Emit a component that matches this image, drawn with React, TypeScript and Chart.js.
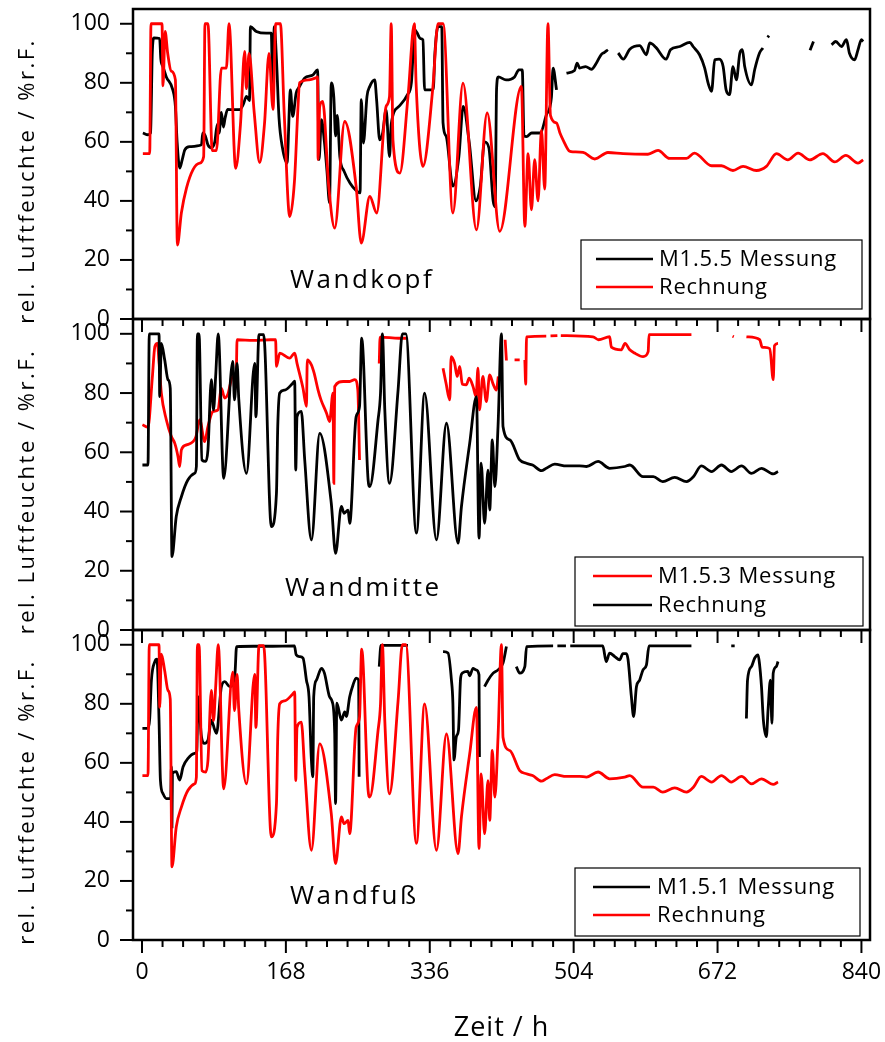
import React, { useEffect, useRef } from "react";
import { Chart, registerables } from "chart.js";
Chart.register(...registerables);

type Pt = [number, number | null];

// ---------- axis ticks ----------
const xTickValues = [0, 168, 336, 504, 672, 840];
const yTickValues = [0, 20, 40, 60, 80, 100];
const xMinorStep = 24;
const yMinorStep = 10;

// ---------- data (Zeit [h], rel. Luftfeuchte [%r.F.]) ----------
const kopfMessung: Pt[] = [
  [1, 63], [7, 62.4], [10, 63], [12, 90], [14, 95.2], [20.6, 95], [22, 88], [24.5, 85.5], [28.4, 82],
  [36, 77.6], [39, 72], [41, 60], [44, 51.1], [47, 54], [50, 57.3], [55.7, 58.4], [69.4, 59], [71, 63],
  [74, 62], [77, 59], [81, 58], [85, 60], [88, 66], [90, 63], [92.7, 70], [95, 65], [97, 68], [100, 71],
  [106, 70.9], [114, 70.9], [118, 72.5], [122, 75.4], [125.5, 74], [126.6, 99], [133.5, 97.4], [145, 96.8],
  [151, 96.8], [152.5, 78], [154.5, 99], [157, 88], [160, 68], [164, 58], [169.3, 52.8], [173.3, 77.6],
  [176, 68.6], [180, 76.5], [184, 78.8], [190, 81.6], [199.7, 82.7], [205, 84.4], [206.7, 54], [209.5, 67.5],
  [213, 60], [216, 50], [219, 39.3], [221, 80], [224, 75], [226, 62], [228, 69], [231, 55], [236, 50],
  [243, 46], [250, 43.5], [254.6, 42.7], [256, 74.3], [258.5, 59.6], [262.7, 75.4], [266, 78.8], [271.7, 81],
  [274, 74], [277.5, 60.7], [281, 63], [285, 70.9], [289, 55], [291, 66], [300, 72], [310, 76], [314.5, 80],
  [318.5, 98], [321, 97], [325, 95], [328, 94.6], [330, 77.6], [340, 77.6], [342, 90], [345.6, 99], [350, 99],
  [351.5, 66.4], [355, 62], [363, 45], [370, 55], [375, 72], [382, 60], [390, 40], [395, 45], [400, 60],
  [405, 58], [410, 40], [412.3, 38], [414, 78], [416, 82], [425, 81], [435, 82], [440, 84.4], [444, 84.4],
  [446, 62], [449, 61.8], [455, 63], [465, 63], [472, 69], [478, 75], [480, 85], [484, 77.6], [486, null],
  [495.6, 83.3], [505, 84.2], [508, 86.7], [511, 85], [518, 85.5], [524.7, 84.6], [530.6, 86.7], [536, 89.5],
  [540, 90.3], [544, 91.2], [546, null], [556, 90.1], [562, 88], [569.5, 91.4], [581, 92.6], [589, 89.5],
  [592.8, 93.5], [600, 92], [612, 88], [617, 91.2], [628, 92.3], [639.6, 93.7], [643.4, 92.3], [651, 89.5],
  [657, 85], [661, 79.9], [665, 77.1], [668.7, 87.8], [674, 88], [678.5, 85.5], [682, 77.6], [686, 76],
  [690, 85.5], [694, 81], [698, 90], [701, 91.2], [703.7, 85.5], [711.6, 79.3], [715.4, 84.5], [721, 90.1],
  [725, 91.8], [727, null], [730.5, 95.4], [732, 96], [733, null], [780, 91], [784, 94], [786, null],
  [805, 92.9], [810, 94], [816.7, 92.3], [822.5, 94.6], [826, 90], [832, 87.8], [836, 91.2], [840, 94.6], [842, 94],
];

const kopfRechnung: Pt[] = [
  [1, 56], [9, 56], [10.5, 100], [23.4, 100], [24.5, 79], [27, 97.4], [30, 90], [34, 84], [39, 81],
  [41.3, 25], [46, 36], [52, 44.4], [59.6, 50.6], [67.4, 52.8], [72, 55], [73.5, 100], [77, 100], [82, 57],
  [86.9, 57], [92.7, 85], [98.5, 85], [101.6, 100], [109.4, 51], [115, 66], [119.9, 90.6], [121.9, 78],
  [125, 90], [131, 70], [137.4, 53], [143, 66], [148.3, 90], [153, 71], [156.1, 100], [161.6, 100],
  [166, 70], [172.5, 34.7], [178, 46.6], [182, 71], [184, 80], [195, 81], [203, 81.7], [205, 82],
  [205.6, 54], [207.5, 72], [211, 73.7], [218, 45], [225, 30.8], [236.7, 66.9], [250, 45], [256, 25.7],
  [266, 41.5], [274, 35.9], [285, 72], [289, 75.4], [291, 100], [293, 60.7], [301, 49.4], [310.6, 75.4],
  [318, 100], [320, 80], [328, 51.7], [339.5, 78], [345.6, 100], [351.5, 100], [363, 35.9], [374.8, 79.9],
  [390.5, 30.2], [403, 69.8], [417.7, 29.7], [443, 78.8], [447, 31.4], [450.8, 56], [454.7, 37], [458.5, 54],
  [462.4, 40], [466.4, 64], [470.2, 44], [474, 100], [476.9, 69], [484, 66.4], [488, 63], [491.6, 60.7],
  [499.4, 56.8], [503.5, 56.6], [515, 56.4], [528.6, 54.2], [544, 56.4], [561.7, 56], [590.8, 55.8],
  [602.5, 57.1], [616, 54.4], [635.7, 54.4], [645, 56.2], [665, 51.9], [676.6, 51.9], [690, 50.3],
  [701.8, 51.7], [717.4, 50.3], [729, 51.7], [740.8, 56], [754, 53.9], [766, 56.2], [779.6, 53.9], [795, 56],
  [808.8, 53.2], [821.7, 55.4], [836, 52.8], [842, 53.9],
];

const mitteMessung: Pt[] = [
  [0.5, 69.3], [7, 68.5], [12, 85], [15, 95.7], [18, 96.8], [20, 90], [22.6, 80], [28.4, 71], [34.3, 65.3],
  [38.3, 63], [42, 58.6], [44, 55.2], [46, 60.8], [52, 62.5], [59.6, 63.6], [63, 65.3], [67.4, 71],
  [73.2, 63.6], [77, 68.7], [83, 73.8], [88.7, 74.3], [92.7, 81.6], [96.6, 78.3], [100, 79.4], [106, 85.6],
  [110, 86], [111, 98], [130, 97.8], [150, 98], [156, 98], [157, 89], [160.8, 93.5], [172.5, 91.8],
  [178.3, 93.5], [181, 90], [188, 81.6], [192, 75.5], [193, 91.2], [197.8, 89.5], [201, 86.7], [205.6, 81],
  [209, 77.7], [215.5, 73.2], [219, 70.4], [223, 80], [224, 49.5], [225, 82.2], [235, 83.9], [242.5, 83.9],
  [248.4, 84.5], [252, 81], [254, 57.4], [256, null], [277, 90], [278, 98.9], [300, 98.5], [308.7, 98.5],
  [310, null], [351.5, 88.4], [355, 83.3], [359.3, 77.7], [361, 92.3], [365, 90], [368, 85.6], [371, 89],
  [374, 83], [378.8, 82.8], [382, 85], [386.5, 82.2], [390, 78.8], [392.3, 88.4], [394, 74.3], [398, 85.6],
  [402, 77.1], [406, 86.1], [410, 83], [413.8, 81], [416, 85.6], [418, null], [424, 98], [425.5, 91],
  [427, null], [435, 91.2], [441, 91.2], [443, null], [447, 91.2], [448, 83], [449, 99], [472, 99.2],
  [474, null], [477, 99.3], [485, 99.4], [487, null], [489, 99.4], [526.6, 99], [533, 98], [546, 99],
  [548, 95.5], [559.7, 94.6], [564, 96.8], [569.5, 94.6], [575, 93.5], [585, 92.3], [591, 94], [592, 99.7],
  [641.5, 99.7], [643, null], [689.5, 99.2], [691, 99], [692, null], [705.7, 99], [721.3, 98], [724, 95.5],
  [733, 95], [737, 84.5], [738.5, 96], [742.6, 96.8],
];

const rechnung: Pt[] = [
  [0.5, 55.7], [7, 55.7], [8.5, 100], [19.9, 100], [20.7, 78.8], [22.6, 96.8], [26.5, 91.2], [30.4, 84.5],
  [33, 81.6], [35, 24.8], [40, 38.3], [46, 45], [53.7, 50.7], [61.5, 52.9], [63.5, 55.2], [64.7, 100],
  [66.6, 100], [70, 57.4], [74.4, 56.9], [77, 60.8], [81, 84.5], [83.5, 74.3], [86, 85.6], [89, 100],
  [95.4, 51.2], [106, 90.7], [108, 77.7], [111, 90], [113, 78], [122, 52.9], [131.6, 90], [133, 72],
  [136.6, 99.7], [142, 99.7], [151, 34.9], [157, 46.2], [158.5, 68.7], [160.8, 80], [166.6, 81], [176, 83.3],
  [178.3, 84], [179.5, 54], [181, 72], [186, 73.8], [190, 57.4], [197.8, 30.4], [207.5, 66.4], [221, 42.8],
  [226, 25.9], [232.8, 41.7], [236, 39.4], [240.6, 40.5], [242.5, 36], [250, 72], [254, 75.5], [256.5, 98.5],
  [264, 50.7], [266, 48.4], [275.6, 70.9], [278.5, 80], [280.7, 100], [283.5, 74.3], [289, 49.5], [299, 81],
  [304, 100], [308, 100], [320.4, 32.7], [330, 80], [343.8, 30.4], [355.5, 69.8], [369, 29.3], [373, 41.7],
  [382.6, 63], [390.5, 78.8], [393.5, 31], [396, 56.3], [400, 36], [404, 54], [406, 40.5], [409, 64.2],
  [412, 48.4], [415.7, 68.7], [419.7, 100], [421.5, 68.7], [429.4, 64.2], [441, 57.4], [448.8, 56.3],
  [456, 55.7], [466.4, 53.8], [472, 54.6], [481.9, 56], [495.6, 55.4], [511, 55.4], [519, 55.2],
  [532.5, 56.9], [546, 54.6], [563.6, 55.2], [569.5, 55.7], [585, 51.8], [597, 51.8], [608, 50.1],
  [622, 51.5], [635.7, 50.1], [644, 51.8], [653, 55.4], [665, 53.5], [676.6, 55.7], [688, 53.5], [700, 55.4],
  [711.6, 52.9], [723.3, 54.6], [737, 52.7], [742.6, 53.5],
];

const fussMessung: Pt[] = [
  [0.5, 71.7], [7, 71.7], [9, 75], [11, 88], [15, 94.3], [17.5, 95.1], [19.9, 74.5], [21.5, 54.2],
  [24.5, 49.6], [28.4, 47.9], [33.5, 48], [34.3, 58.7], [35, 38.3], [35.5, 56.4], [40, 57], [44, 54.2],
  [48, 58.7], [53.7, 61.5], [61.5, 63.2], [64, 64], [65.4, 82.4], [69.4, 68.9], [73, 66.6], [77, 67.7],
  [81, 74.5], [85, 71.1], [87, 70], [92.7, 85.8], [96.6, 87.5], [102.6, 85.8], [108.5, 90.1], [110.4, 99.4],
  [130, 99.5], [150, 99.5], [178, 99.6], [180, 96.6], [184, 96], [188, 95.5], [192, 88], [195, 82.4],
  [197.8, 61], [199.5, 55.3], [200.5, 82.4], [203.6, 88], [209.5, 92], [213, 90.4], [219, 82.4], [222, 80.8],
  [225, 70], [226, 46.2], [227.5, 80.2], [232.8, 74.5], [236.7, 77.3], [238.6, 75.7], [242.5, 82.4],
  [246.4, 86.4], [250, 88.7], [253, 88], [253.5, 55.3], [255, null], [277, 92.6], [279, 99.8], [310.6, 99.8],
  [312, null], [351.5, 97.7], [357.3, 97.2], [361.3, 88], [363, 80.2], [364.3, 61], [367, 68.9], [369.5, 71],
  [372, 88.7], [374, 90.4], [380.6, 91], [382.5, 89.5], [386.5, 92], [390, 91.5], [393.5, 89.8], [394, 62],
  [396, null], [400, 85.8], [404, 88], [410, 90.4], [415.7, 91.5], [421.5, 93.8], [425.5, 99.4], [427, null],
  [437, 92.6], [441, 90.4], [447, 92.6], [449, 99.4], [480, 99.6], [482, null], [485, 99.6], [495, 99.6],
  [497, null], [500, 99.6], [538, 99.6], [542, 94.3], [546, 97.2], [552, 96], [557.7, 94.9], [561.5, 97],
  [565.5, 97], [567.5, 95], [571.4, 82.4], [574, 75.7], [577.3, 85.8], [581, 88], [585, 91.5], [589, 93.2],
  [592, 99.6], [641.5, 99.6], [643, null], [688, 99.6], [692, 99.6], [694, null], [705.7, 75], [707, 88],
  [711.6, 92.6], [715.4, 95.5], [719.3, 96.6], [721, 93.5], [723.3, 85.8], [725.5, 74.5], [729, 68.9],
  [731, 78], [733.7, 88], [735.5, 73.4], [737, 90.4], [740.5, 92.6], [742.6, 94.3],
];

// ---------- labels ----------
const yTitle = "rel. Luftfeuchte / %r.F.";
const xTitle = "Zeit / h";
const panelNames = ["Wandkopf", "Wandmitte", "Wandfuß"];
const messungLabels = ["M1.5.5 Messung", "M1.5.3 Messung", "M1.5.1 Messung"];
const rechnungLabel = "Rechnung";

const RED = "#ff0000";
const BLACK = "#000000";
const FONT = '"Open Sans", "DejaVu Sans", sans-serif';
const W = 885;
const H = 1042;

type Series = { label: string; pts: Pt[]; color: string };
type Panel = {
  top: number;
  bottom: number;
  showX: boolean;
  series: Series[];
  name: string;
  nameX: number;
  nameY: number;
  legendBox: [number, number, number, number];
  legendLine: [number, number];
  legendTextX: number;
  legendRows: { y: number; color: string; text: string }[];
};

const panels: Panel[] = [
  {
    top: 9, bottom: 319, showX: false,
    series: [
      { label: rechnungLabel, pts: kopfRechnung, color: RED },
      { label: messungLabels[0], pts: kopfMessung, color: BLACK },
    ],
    name: panelNames[0], nameX: 290, nameY: 288,
    legendBox: [581, 240, 862, 309], legendLine: [596, 653], legendTextX: 659,
    legendRows: [
      { y: 259, color: BLACK, text: messungLabels[0] },
      { y: 287, color: RED, text: rechnungLabel },
    ],
  },
  {
    top: 319, bottom: 630, showX: false,
    series: [
      { label: rechnungLabel, pts: rechnung, color: BLACK },
      { label: messungLabels[1], pts: mitteMessung, color: RED },
    ],
    name: panelNames[1], nameX: 285, nameY: 596,
    legendBox: [575, 557, 863, 626], legendLine: [593, 652], legendTextX: 658,
    legendRows: [
      { y: 576, color: RED, text: messungLabels[1] },
      { y: 605, color: BLACK, text: rechnungLabel },
    ],
  },
  {
    top: 630, bottom: 940, showX: true,
    series: [
      { label: rechnungLabel, pts: rechnung, color: RED },
      { label: messungLabels[2], pts: fussMessung, color: BLACK },
    ],
    name: panelNames[2], nameX: 290, nameY: 904,
    legendBox: [575, 868, 860, 936], legendLine: [593, 650], legendTextX: 657,
    legendRows: [
      { y: 887, color: BLACK, text: messungLabels[2] },
      { y: 915, color: RED, text: rechnungLabel },
    ],
  },
];

function decorPlugin(p: Panel) {
  return {
    id: "decor",
    afterDraw(chart: any) {
      const ctx: CanvasRenderingContext2D = chart.ctx;
      const a = chart.chartArea;
      const xs = chart.scales.x;
      const ys = chart.scales.y;
      ctx.save();
      ctx.strokeStyle = BLACK;
      ctx.fillStyle = BLACK;
      ctx.lineWidth = 2;
      for (let v = 0; v <= 100; v += yMinorStep) {
        const y = ys.getPixelForValue(v);
        const len = yTickValues.includes(v) ? 13 : 7;
        ctx.beginPath();
        ctx.moveTo(a.left - len, y);
        ctx.lineTo(a.left, y);
        ctx.stroke();
      }
      for (let v = 0; v <= 840; v += xMinorStep) {
        const x = xs.getPixelForValue(v);
        const len = xTickValues.includes(v) ? 13 : 7;
        ctx.beginPath();
        ctx.moveTo(x, a.bottom);
        ctx.lineTo(x, a.bottom + len);
        ctx.stroke();
      }
      ctx.lineWidth = 2.5;
      ctx.strokeRect(a.left, a.top, a.right - a.left, a.bottom - a.top);

      ctx.save();
      ctx.translate(28, (a.top + a.bottom) / 2 + 17);
      ctx.rotate(-Math.PI / 2);
      ctx.font = `22px ${FONT}`;
      (ctx as any).letterSpacing = "2.5px";
      ctx.textAlign = "center";
      ctx.textBaseline = "middle";
      ctx.fillText(yTitle, 0, 0);
      ctx.restore();

      ctx.save();
      ctx.font = `26px ${FONT}`;
      (ctx as any).letterSpacing = "2.5px";
      ctx.textAlign = "left";
      ctx.textBaseline = "alphabetic";
      ctx.fillText(p.name, p.nameX, p.nameY);
      ctx.restore();

      const [bx1, by1, bx2, by2] = p.legendBox;
      ctx.fillStyle = "#fff";
      ctx.fillRect(bx1, by1, bx2 - bx1, by2 - by1);
      ctx.lineWidth = 1.2;
      ctx.strokeStyle = BLACK;
      ctx.strokeRect(bx1, by1, bx2 - bx1, by2 - by1);
      ctx.save();
      ctx.font = `22px ${FONT}`;
      (ctx as any).letterSpacing = "0.8px";
      ctx.textBaseline = "middle";
      ctx.textAlign = "left";
      for (const r of p.legendRows) {
        ctx.strokeStyle = r.color;
        ctx.lineWidth = 2.6;
        ctx.beginPath();
        ctx.moveTo(p.legendLine[0], r.y);
        ctx.lineTo(p.legendLine[1], r.y);
        ctx.stroke();
        ctx.fillStyle = BLACK;
        ctx.fillText(r.text, p.legendTextX, r.y + 1);
      }
      ctx.restore();

      if (p.showX) {
        ctx.save();
        ctx.font = `27px ${FONT}`;
        (ctx as any).letterSpacing = "1px";
        ctx.textAlign = "center";
        ctx.textBaseline = "alphabetic";
        ctx.fillStyle = BLACK;
        ctx.fillText(xTitle, (a.left + a.right) / 2, 1036);
        ctx.restore();
      }
      ctx.restore();
    },
  };
}

function makeChart(canvas: HTMLCanvasElement, p: Panel) {
  const tickFont = { family: FONT, size: 23 };
  return new Chart(canvas, {
    type: "line",
    data: {
      datasets: p.series.map((s) => ({
        label: s.label,
        data: s.pts.map(([x, y]) => ({ x, y })),
        borderColor: s.color,
        backgroundColor: s.color,
        borderWidth: 2.8,
        pointRadius: 0,
        cubicInterpolationMode: "monotone",
        spanGaps: false,
        fill: false,
      })),
    },
    options: {
      responsive: false,
      animation: false,
      devicePixelRatio: 1,
      events: [],
      layout: {
        padding: { top: p.top, left: 0, right: W - 870, bottom: p.showX ? 0 : H - p.bottom },
      },
      plugins: { legend: { display: false }, tooltip: { enabled: false }, title: { display: false } },
      scales: {
        x: {
          type: "linear",
          min: -10.5,
          max: 850,
          display: p.showX,
          grid: { display: false, drawTicks: true, tickLength: 13 },
          border: { display: false },
          ticks: { font: tickFont, color: BLACK, padding: 6, maxRotation: 0, autoSkip: false },
          afterBuildTicks: (s: any) => {
            s.ticks = xTickValues.map((v) => ({ value: v }));
          },
          afterFit: (s: any) => {
            if (p.showX) s.height = H - p.bottom;
            s.paddingLeft = 0;
            s.paddingRight = 0;
          },
        },
        y: {
          type: "linear",
          min: 0,
          max: 105,
          grid: { display: false, drawTicks: true, tickLength: 13 },
          border: { display: false },
          ticks: { font: tickFont, color: BLACK, padding: 10, autoSkip: false },
          afterBuildTicks: (s: any) => {
            s.ticks = yTickValues.map((v) => ({ value: v }));
          },
          afterFit: (s: any) => {
            s.width = 133;
            s.paddingTop = 0;
            s.paddingBottom = 0;
          },
        },
      },
    } as any,
    plugins: [decorPlugin(p)],
  });
}

export default function App() {
  const refs = [useRef<HTMLCanvasElement>(null), useRef<HTMLCanvasElement>(null), useRef<HTMLCanvasElement>(null)];
  useEffect(() => {
    const charts = panels.map((p, i) => makeChart(refs[i].current!, p));
    return () => charts.forEach((c) => c.destroy());
  }, []);
  return (
    <div style={{ position: "absolute", left: 0, top: 0, width: W, height: H, background: "#fff" }}>
      {panels.map((_, i) => (
        <canvas
          key={i}
          ref={refs[i]}
          width={W}
          height={H}
          style={{ position: "absolute", left: 0, top: 0, width: W, height: H }}
        />
      ))}
    </div>
  );
}
